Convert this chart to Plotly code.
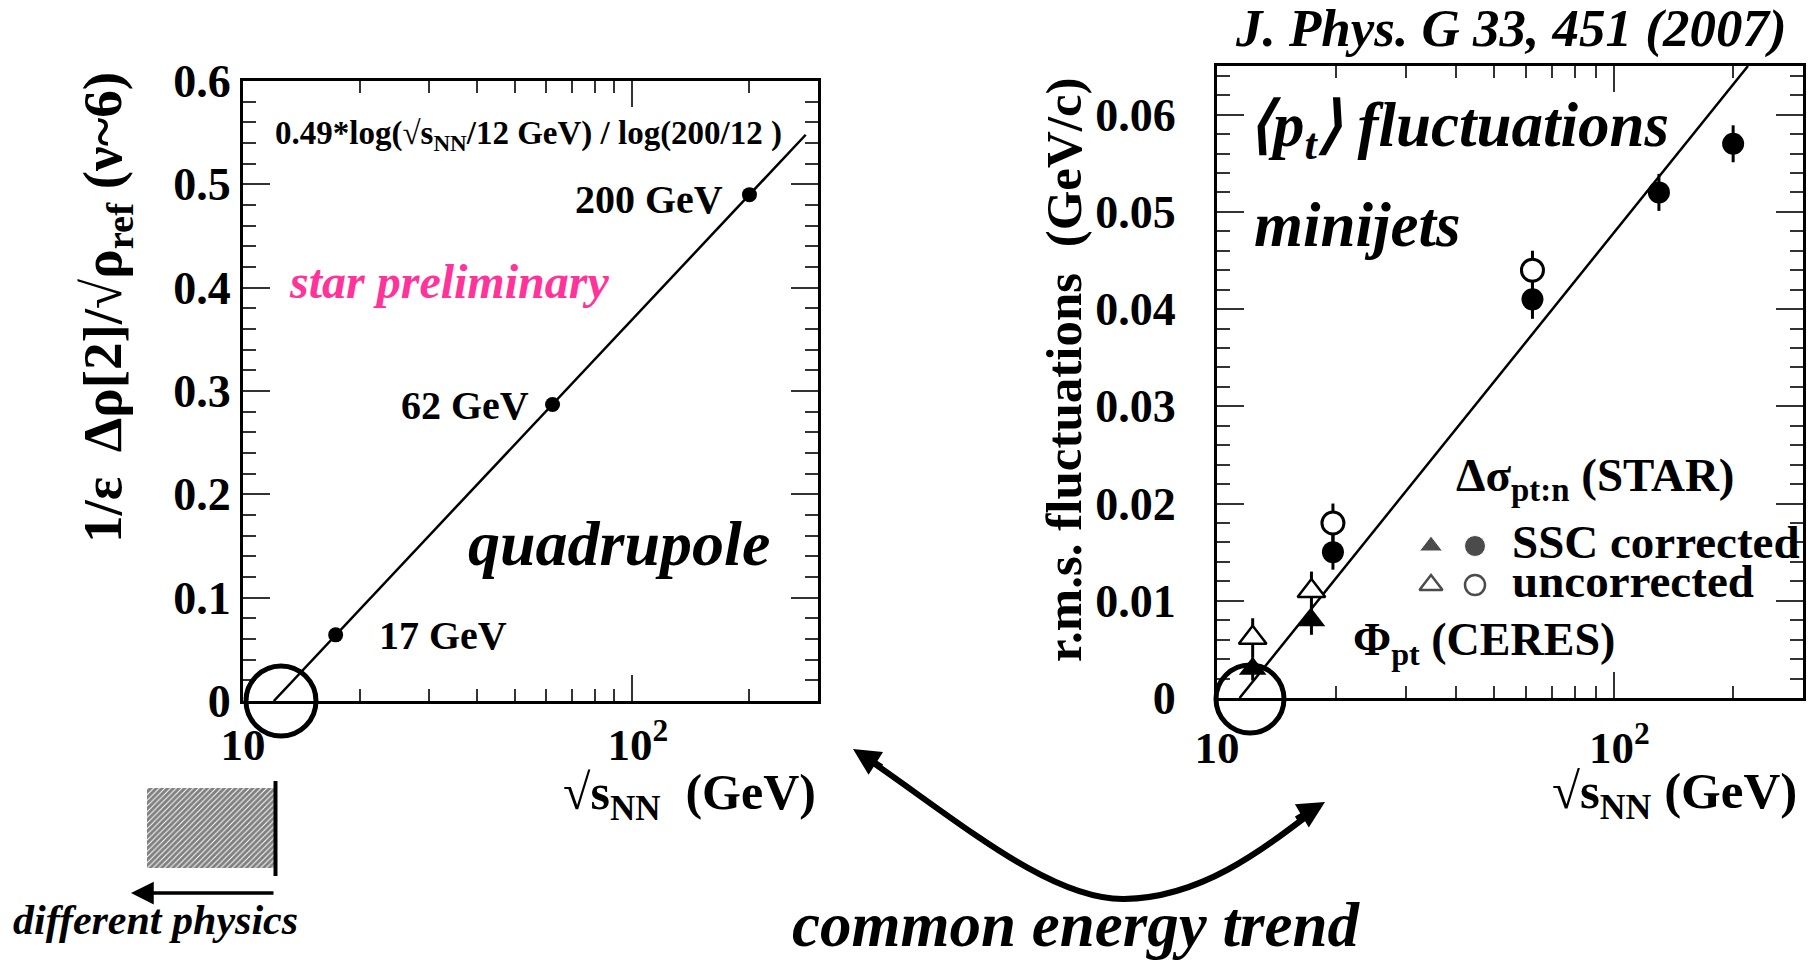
import math
import plotly.graph_objects as go

W, H = 1815, 960
FONT = "Liberation Serif"

# ---- left panel: quadrupole amplitude vs. collision energy ----
quad_energy = [17.3, 62.4, 200.0]
quad_value = [0.064, 0.287, 0.49]
quad_labels = ["17 GeV", "62 GeV", "200 GeV"]
quad_fit_range = [12.0, 279.0]          # energies spanned by the log trend line


def quad_trend(e):
    # 0.49*log(sqrt(s_NN)/12 GeV) / log(200/12)
    return 0.49 * math.log(e / 12.0) / math.log(200.0 / 12.0)


# ---- right panel: <pt> fluctuations (minijets) ----
star_energy = [19.6, 62.4, 130.0, 200.0]
star_corr = [0.015, 0.041, 0.052, 0.057]
star_corr_err = [0.0018, 0.002, 0.0019, 0.0019]

star_unc_energy = [19.6, 62.4]
star_unc = [0.018, 0.044]
star_unc_err = [0.002, 0.002]

ceres_energy = [12.3, 17.3]
ceres_corr = [0.003, 0.008]
ceres_corr_err = [0.0012, 0.0015]
ceres_unc = [0.0062, 0.011]
ceres_unc_err = [0.002, 0.002]

trend_energy = [11.4, 218.0]
trend_value = [0.0, 0.065]

left_yticks = [0.0, 0.1, 0.2, 0.3, 0.4, 0.5, 0.6]
left_yticktext = ["0", "0.1", "0.2", "0.3", "0.4", "0.5", "0.6"]
right_yticks = [0.0, 0.01, 0.02, 0.03, 0.04, 0.05, 0.06]
right_yticktext = ["0", "0.01", "0.02", "0.03", "0.04", "0.05", "0.06"]
xticks = [10, 100]
xticktext = ["10", "\u00a010<sup>2</sup>"]
xminor = [20, 30, 40, 50, 60, 70, 80, 90, 200]


def px(x):
    return x / W


def py(y):
    return 1 - y / H


TICKC = "#333333"


def xaxis_cfg(left, right, standoff):
    return dict(
        type="log", range=[1, math.log10(300)], domain=[px(left), px(right)],
        automargin=False,
        showgrid=False, zeroline=False, showline=True, linecolor="black",
        linewidth=3, mirror="ticks", ticks="inside", ticklen=26, tickwidth=2,
        tickcolor=TICKC, tickvals=xticks, ticktext=xticktext,
        tickfont=dict(family=FONT, size=45, color="black", weight="bold"),
        ticklabelstandoff=standoff,
        minor=dict(tickvals=xminor, ticks="inside", ticklen=12, tickwidth=2,
                   tickcolor=TICKC),
    )


def yaxis_cfg(top, bottom, rng, vals, text, minor_dtick, standoff):
    return dict(
        range=rng, domain=[py(bottom), py(top)], automargin=False,
        showgrid=False, zeroline=False,
        showline=True, linecolor="black", linewidth=3, mirror="ticks",
        ticks="inside", ticklen=27, tickwidth=2, tickcolor=TICKC,
        tickvals=vals, ticktext=text,
        tickfont=dict(family=FONT, size=46, color="black", weight="bold"),
        ticklabelstandoff=standoff,
        minor=dict(dtick=minor_dtick, ticks="inside", ticklen=13, tickwidth=2,
                   tickcolor=TICKC),
    )


fig = go.Figure()

# left panel
fig.add_trace(go.Scatter(
    x=quad_fit_range, y=[quad_trend(e) for e in quad_fit_range],
    mode="lines", line=dict(color="black", width=2.5),
    xaxis="x", yaxis="y", showlegend=False, hoverinfo="skip"))
fig.add_trace(go.Scatter(
    x=quad_energy, y=quad_value, mode="markers",
    marker=dict(color="black", size=15), xaxis="x", yaxis="y",
    showlegend=False, cliponaxis=False))

# right panel
fig.add_trace(go.Scatter(
    x=trend_energy, y=trend_value, mode="lines",
    line=dict(color="black", width=2.5), xaxis="x2", yaxis="y2",
    showlegend=False, hoverinfo="skip"))


def err(a):
    return dict(type="data", array=a, thickness=3, width=0, color="black")


fig.add_trace(go.Scatter(
    x=ceres_energy, y=ceres_unc, error_y=err(ceres_unc_err), mode="markers",
    marker=dict(symbol="triangle-up", size=24, color="white",
                line=dict(color="black", width=2.5)),
    xaxis="x2", yaxis="y2", showlegend=False, cliponaxis=False))
fig.add_trace(go.Scatter(
    x=ceres_energy, y=ceres_corr, error_y=err(ceres_corr_err), mode="markers",
    marker=dict(symbol="triangle-up", size=24, color="black"),
    xaxis="x2", yaxis="y2", showlegend=False, cliponaxis=False))
fig.add_trace(go.Scatter(
    x=star_unc_energy, y=star_unc, error_y=err(star_unc_err), mode="markers",
    marker=dict(symbol="circle", size=22, color="white",
                line=dict(color="black", width=3)),
    xaxis="x2", yaxis="y2", showlegend=False, cliponaxis=False))
fig.add_trace(go.Scatter(
    x=star_energy, y=star_corr, error_y=err(star_corr_err), mode="markers",
    marker=dict(symbol="circle", size=22, color="black"),
    xaxis="x2", yaxis="y2", showlegend=False, cliponaxis=False))

# overlay drawing layer in figure pixels (legend keys, hatched region)
key_x = [1431, 1475]
key_y = [546, 585]
fig.add_trace(go.Scatter(
    x=key_x, y=[key_y[0]] * 2, mode="markers",
    marker=dict(symbol=["triangle-up", "circle"], size=[20, 21], color="black"),
    xaxis="x3", yaxis="y3", showlegend=False, hoverinfo="skip"))
fig.add_trace(go.Scatter(
    x=key_x, y=[key_y[1]] * 2, mode="markers",
    marker=dict(symbol=["triangle-up", "circle"], size=[20, 20], color="white",
                line=dict(color="black", width=2.5)),
    xaxis="x3", yaxis="y3", showlegend=False, hoverinfo="skip"))
hx0, hx1, hy0, hy1 = 147, 274, 788, 868
fig.add_trace(go.Scatter(
    x=[hx0, hx1, hx1, hx0, hx0], y=[hy0, hy0, hy1, hy1, hy0],
    mode="lines", fill="toself", line=dict(width=0, color="rgba(0,0,0,0)"),
    fillcolor="white",
    fillpattern=dict(shape="/", size=4, solidity=0.75, fgcolor="black",
                     bgcolor="white"),
    xaxis="x3", yaxis="y3", showlegend=False, hoverinfo="skip"))

# ---- decorations ----
shapes = []
for cx, cy, r in [(281, 701, 35), (1250, 699, 34)]:
    shapes.append(dict(type="circle", xref="paper", yref="paper",
                       xsizemode="pixel", ysizemode="pixel",
                       xanchor=px(cx), yanchor=py(cy),
                       x0=-r, x1=r, y0=-r, y1=r,
                       line=dict(color="black", width=5)))
shapes.append(dict(type="line", xref="paper", yref="paper",
                   x0=px(275.5), x1=px(275.5), y0=py(781), y1=py(876),
                   line=dict(color="black", width=4)))


def ppath(cmds):
    out = []
    for c in cmds:
        if isinstance(c, str):
            out.append(c)
        else:
            out.append("%.5f,%.5f" % (px(c[0]), py(c[1])))
    return " ".join(out)


curve = ppath(["M", (862, 755), "C", (960, 822), (1050, 900), (1124, 899),
               "C", (1200, 898), (1260, 852), (1316, 809)])
shapes.append(dict(type="path", xref="paper", yref="paper", path=curve,
                   line=dict(color="black", width=6)))

annotations = []


def txt(text, x, y, size, xanchor="left", yanchor="middle", italic=False,
        bold=True, color="black", angle=0):
    annotations.append(dict(
        text=text, x=px(x), y=py(y), xref="paper", yref="paper",
        xanchor=xanchor, yanchor=yanchor, showarrow=False, textangle=angle,
        font=dict(family=FONT, size=size, color=color,
                  weight="bold" if bold else "normal",
                  style="italic" if italic else "normal")))


def arrow(tx, ty, ax, ay, width, size=1.0):
    annotations.append(dict(
        text="", x=px(tx), y=py(ty), xref="paper", yref="paper",
        ax=ax, ay=ay, showarrow=True, arrowhead=2, arrowsize=size,
        arrowwidth=width, arrowcolor="black"))


# left panel texts
txt("0.49*log(√s<sub>NN</sub>/12 GeV) / log(200/12 )", 273, 136, 33)
for lab, (lx, ly) in zip(quad_labels, [(377, 635), (399, 405), (573, 199)]):
    txt(lab, lx, ly, 40)
txt("star preliminary", 287, 282, 48, italic=True, color="#ff3399")
txt("quadrupole", 466, 543, 64, italic=True)
txt("√s<sub>NN</sub>  (GeV)", 818, 796, 50, xanchor="right")
txt("1/ε  Δρ[2]/√ρ<sub>ref</sub> (ν~6)", 106, 308, 55, xanchor="center",
    angle=-90)

# right panel texts
txt("J. Phys. G 33, 451 (2007)", 1789, 29, 53, xanchor="right", italic=True)
txt("⟨p<sub>t</sub>⟩ fluctuations", 1246, 129, 63, italic=True)
txt("minijets", 1252, 225, 63, italic=True)
txt("Δσ<sub>pt:n</sub> (STAR)", 1454, 478, 47)
txt("SSC corrected", 1510, 542, 47)
txt("uncorrected", 1510, 581, 47)
txt("Φ<sub>pt</sub> (CERES)", 1351, 643, 46)
txt("r.m.s. fluctuations  (GeV/c)", 1064, 370, 51, xanchor="center",
    angle=-90)
txt("√s<sub>NN</sub> (GeV)", 1799, 795, 51, xanchor="right")

# bottom texts and arrows
txt("common energy trend", 1076, 925, 63, xanchor="center", italic=True)
txt("different physics", 11, 920, 42, italic=True)
arrow(131, 893, 144, 0, 3.5, 1.3)
arrow(853, 749, 30, 19, 6, 0.9)
arrow(1325, 802, -30, 18, 6, 0.9)

fig.update_layout(
    width=W, height=H, autosize=False,
    margin=dict(l=0, r=0, t=0, b=0, pad=0, autoexpand=False),
    paper_bgcolor="white", plot_bgcolor="rgba(0,0,0,0)",
    showlegend=False,
    xaxis=dict(anchor="y", **xaxis_cfg(243, 818, 2)),
    yaxis=dict(anchor="x", **yaxis_cfg(81, 701, [0, 0.6], left_yticks,
                                        left_yticktext, 0.02, 0)),
    xaxis2=dict(anchor="y2", **xaxis_cfg(1217, 1803, 8)),
    yaxis2=dict(anchor="x2", **yaxis_cfg(66, 698, [0, 0.065], right_yticks,
                                          right_yticktext, 0.002, 29)),
    xaxis3=dict(domain=[0, 1], range=[0, W], visible=False, anchor="y3",
                fixedrange=True, automargin=False),
    yaxis3=dict(domain=[0, 1], range=[H, 0], visible=False, anchor="x3",
                fixedrange=True, automargin=False),
    shapes=shapes,
    annotations=annotations,
)

fig.write_html("out.html")
